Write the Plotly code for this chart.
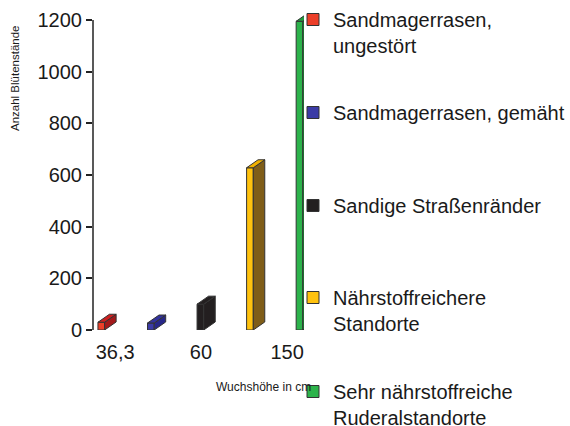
import plotly.graph_objects as go

# ---------------- data ----------------
series_names = [
    "Sandmagerrasen,<br>ungestört",
    "Sandmagerrasen, gemäht",
    "Sandige Straßenränder",
    "Nährstoffreichere<br>Standorte",
    "Sehr nährstoffreiche<br>Ruderalstandorte",
]
values = [30, 27, 100, 628, 1195]
slots = [1, 2, 3, 4, 5]
tick_labels = ["36,3", "60", "150"]
y_ticks = [0, 200, 400, 600, 800, 1000, 1200]

# ---------------- styles ----------------
front_colors = ["#ec3f29", "#3b3ba6", "#231f20", "#ffc20e", "#2cb34b"]
top_colors = ["#cc2020", "#32329c", "#231f20", "#f0b000", "#229a3e"]
side_colors = ["#a3191b", "#272788", "#231f20", "#7f5d18", "#1c8a34"]
edge = "#333333"
FONT = "Liberation Sans, Arial, Helvetica, sans-serif"

tick_label_pos = [1.28, 3.01, 4.75]
BAR_W = 0.135
DX = 0.232   # depth offset (x units)
DY = 31      # depth offset (y units)
X_RANGE = [0.8325, 5.091]
Y_RANGE = [0, 1246.5]

legend_tops = [-5, 93, 186, 278, 372]   # px from top
legend_left = 293                       # px

fig = go.Figure()

for i, (name, v, s) in enumerate(zip(series_names, values, slots)):
    hw = BAR_W / 2
    lg = "legend" if i == 0 else f"legend{i + 1}"
    fig.add_trace(go.Bar(
        x=[s], y=[v], width=BAR_W, name=name,
        marker=dict(color=front_colors[i], line=dict(color=edge, width=1)),
        legend=lg, showlegend=True, hoverinfo="skip",
    ))
    # side face
    fig.add_trace(go.Scatter(
        x=[s + hw, s + hw + DX, s + hw + DX, s + hw, s + hw],
        y=[0, DY, v + DY, v, 0],
        mode="lines", fill="toself", fillcolor=side_colors[i],
        line=dict(color=edge, width=1), showlegend=False, hoverinfo="skip",
    ))
    # top face
    fig.add_trace(go.Scatter(
        x=[s - hw, s - hw + DX, s + hw + DX, s + hw, s - hw],
        y=[v, v + DY, v + DY, v, v],
        mode="lines", fill="toself", fillcolor=top_colors[i],
        line=dict(color=edge, width=1), showlegend=False, hoverinfo="skip",
    ))

W, H = 570, 426
layout_legends = {}
for i, top in enumerate(legend_tops):
    key = "legend" if i == 0 else f"legend{i + 1}"
    layout_legends[key] = dict(
        xref="container", yref="container",
        x=legend_left / W, y=1 - top / H,
        xanchor="left", yanchor="top", valign="top",
        bgcolor="rgba(0,0,0,0)", borderwidth=0,
        font=dict(family=FONT, size=20, color="#1a1a1a"),
    )

fig.update_layout(
    width=W, height=H,
    margin=dict(l=93, r=266, t=8, b=96, autoexpand=False),
    paper_bgcolor="white", plot_bgcolor="white",
    barmode="overlay",
    font=dict(family=FONT, size=20, color="#1a1a1a"),
    xaxis=dict(
        range=X_RANGE, showgrid=False, zeroline=False, showline=False,
        tickmode="array", tickvals=tick_label_pos, ticktext=tick_labels,
        ticks="", tickfont=dict(size=20, color="#1a1a1a"),
        ticklabelstandoff=8, automargin=False,
    ),
    yaxis=dict(
        range=Y_RANGE, showgrid=False, zeroline=False, showline=False,
        tickmode="array", tickvals=y_ticks,
        ticks="outside", ticklen=6, tickwidth=1.5, tickcolor="#222222",
        tickfont=dict(size=20, color="#1a1a1a"), automargin=False,
    ),
    shapes=[dict(
        type="line", xref="x domain", x0=0, x1=0, yref="y",
        y0=y_ticks[0], y1=y_ticks[-1], line=dict(color="#222222", width=1.5),
    )],
    annotations=[
        dict(text="Anzahl Blütenstände", textangle=-90, showarrow=False,
             xref="paper", x=0, xshift=-78, xanchor="center",
             yref="paper", y=(330 - 78) / 322, yanchor="middle",
             font=dict(family=FONT, size=11.5, color="#1a1a1a")),
        dict(text="Wuchshöhe in cm", showarrow=False,
             xref="paper", x=(214 - 93) / 211, xanchor="left",
             yref="paper", y=(330 - 387) / 322, yanchor="middle",
             font=dict(family=FONT, size=12, color="#1a1a1a")),
    ],
    **layout_legends,
)

fig.write_html(
    "out.html",
    config={"displayModeBar": False},
    post_script="document.body.style.margin='0';",
)
